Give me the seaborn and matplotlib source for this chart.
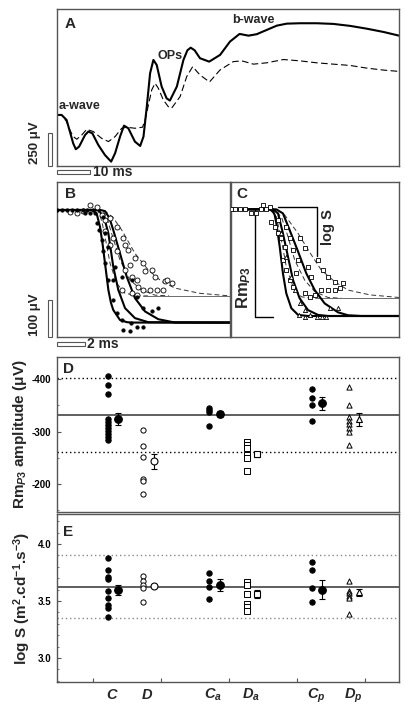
import matplotlib
matplotlib.use("Agg")
import matplotlib.pyplot as plt
import matplotlib.transforms as mtransforms
from matplotlib.patches import Rectangle
from matplotlib.ticker import MultipleLocator
import seaborn as sns

sns.set_theme(style="white")
plt.rcParams["font.family"] = ["Liberation Sans", "DejaVu Sans"]
plt.rcParams["font.weight"] = "bold"
plt.rcParams["mathtext.fontset"] = "custom"
plt.rcParams["mathtext.rm"] = "Liberation Sans:bold"
plt.rcParams["mathtext.it"] = "Liberation Sans:bold:italic"
plt.rcParams["mathtext.bf"] = "Liberation Sans:bold"
plt.rcParams["mathtext.default"] = "regular"
plt.rcParams["axes.unicode_minus"] = False

# ---- panel A: ERG traces (ms, uV) ----
a_time_solid = [0, 1.4, 2.9, 3.9, 4.9, 5.7, 6.7, 8.5, 9.5, 10.7, 12.5, 14.5, 16.4, 17.6, 19.1,
                20.3, 21.6, 23.6, 25.2, 26.2, 27.2, 28.2, 29.2, 30.2, 31.7, 33.2, 34.2, 36.3,
                38.3, 39.5, 40.5, 41.7, 43.3, 46.1, 49.4, 52.4, 55.3, 58.0, 60.5, 63.5, 66.6,
                69.6, 73.6, 78.7, 83.7, 88.8, 93.8, 98.9, 103.6]
a_volt_solid = [0, 0, -38, -126, -215, -260, -240, -152, -126, -139, -227, -303, -354, -290, -164,
                -81, -101, -202, -235, -164, 63, 316, 417, 379, 215, 126, 109, 215,
                417, 490, 510, 490, 430, 404, 455, 556, 614, 601, 612, 644, 677,
                692, 695, 695, 690, 675, 654, 629, 601]
a_time_dash = [0, 1.4, 2.9, 3.9, 4.9, 6.0, 7.5, 9.0, 11.0, 13.5, 15.6, 17.6, 19.6, 21.1, 23.6,
               25.9, 26.7, 27.7, 28.7, 29.7, 30.7, 32.2, 33.7, 34.7, 37.3, 39.3, 41.1, 43.3,
               46.2, 49.4, 53.4, 56.0, 59.5, 63.5, 68.6, 73.6, 78.7, 83.7, 88.8, 93.8, 98.9, 103.6]
a_volt_dash = [0, 0, -50, -114, -164, -184, -152, -109, -126, -177, -202, -164, -101, -93, -101,
               -93, -38, 76, 190, 240, 202, 114, 63, 51, 139, 291, 366, 303,
               250, 341, 404, 410, 385, 395, 420, 410, 395, 385, 375, 355, 340, 330]

# ---- panel B: a-wave fits (ms, uV) ----
b_fit_solid = [
    ([0, 2.6, 2.85, 3.07, 3.25, 3.43, 3.67, 3.85, 4.02, 4.5, 5.0, 5.33, 12.36],
     [0, 0, -12, -45, -90, -144, -216, -250, -270, -297, -303, -304, -304]),
    ([0, 2.9, 3.07, 3.4, 3.67, 4.02, 4.38, 4.86, 5.57, 6.52, 12.36],
     [0, 0, -5, -25, -63, -153, -216, -265, -292, -303, -304]),
    ([0, 3.1, 3.43, 3.75, 4.02, 4.5, 4.98, 5.57, 6.29, 7.24, 8.43, 12.36],
     [0, 0, -3, -22, -54, -117, -180, -238, -274, -295, -304, -304]),
]
b_fit_dash = [
    ([0, 2.7, 2.95, 3.2, 3.43, 3.79, 4.26, 4.86, 5.81, 6.5],
     [0, 0, -3, -30, -72, -144, -198, -225, -232, -232]),
    ([0, 3.0, 3.31, 3.6, 3.9, 4.5, 5.21, 6.05, 7.0, 8.0],
     [0, 0, -3, -25, -63, -135, -189, -216, -230, -232]),
    ([0, 3.0, 3.43, 4.0, 4.62, 5.57, 6.52, 7.48, 8.43, 10.2, 12.36],
     [0, 0, -3, -20, -54, -117, -162, -193, -211, -225, -232]),
]
b_level_dash = -232
b_filled_t = [0, 0.36, 0.71, 1.07, 1.45, 1.83, 2.17, 2.55, 2.0, 2.36, 2.71, 2.83, 3.0, 3.19,
              3.31, 3.43, 3.67, 4.02, 4.26, 4.62, 5.29, 5.69, 6.17, 4.74, 5.21, 6.17, 6.76,
              7.24, 3.67, 4.14, 4.62, 5.33, 5.69, 3.43, 4.02, 3.31]
b_filled_v = [0, 0, 0, 0, 0, 0, 0, 0, -8, -8, -9, -36, -54, -81,
              -112, -144, -189, -243, -279, -297, -306, -315, -315, -324, -326, -265, -274,
              -265, -99, -153, -180, -189, -234, -63, -189, -18]
b_open_t = [0.93, 1.4, 1.83, 2.36, 2.83, 3.19, 3.43, 3.79, 4.26, 4.02, 3.79, 4.26, 4.74, 4.86,
            5.1, 5.57, 5.21, 4.86, 5.33, 5.69, 6.17, 6.29, 6.76, 7.0, 7.71, 8.19, 5.81, 6.17,
            6.64, 7.12, 7.6, 7.83, 5.33, 5.69, 4.62, 3.43]
b_open_v = [-5, -9, -2, 13, 8, -13, -27, -22, -45, -76, -94, -112, -76, -94,
            -108, -130, -148, -162, -180, -189, -144, -166, -162, -180, -193, -198, -207, -216,
            -216, -216, -216, -189, -225, -229, -216, -58]

# ---- panel C: a-wave fits (ms, uV) ----
c_fit_solid = [
    ([0, 2.76, 3.0, 3.12, 3.24, 3.48, 3.71, 3.95, 4.31, 4.79, 5.5, 12.0],
     [0, 0, -5, -15, -38, -101, -173, -227, -267, -285, -288, -288]),
    ([0, 3.0, 3.36, 3.71, 4.07, 4.43, 4.9, 5.5, 6.21, 6.93, 12.0],
     [0, 0, -11, -65, -128, -191, -240, -272, -285, -288, -288]),
    ([0, 3.24, 3.71, 4.19, 4.79, 5.38, 5.98, 6.69, 7.64, 8.36, 9.3, 12.0],
     [0, 0, -11, -56, -114, -173, -218, -254, -278, -286, -288, -288]),
]
c_fit_dash = [
    ([0, 2.76, 3.24, 3.6, 3.95, 4.43, 5.02, 5.74, 6.5],
     [0, 0, -20, -83, -155, -209, -236, -240, -240]),
    ([0, 3.0, 3.6, 4.07, 4.55, 5.26, 5.98, 6.93, 7.88],
     [0, 0, -20, -74, -137, -191, -222, -238, -240]),
    ([0, 3.24, 3.83, 4.79, 5.74, 6.45, 7.4, 8.36, 9.93, 12.0],
     [0, 0, -15, -65, -123, -164, -195, -218, -231, -238]),
]
c_level_dash = -240
c_square_t = [0.05, 0.26, 0.62, 0.98, 1.4, 1.81, 2.17, 2.29, 2.52, 2.76, 2.88, 3.12, 3.36, 3.36,
              3.6, 3.83, 3.95, 4.19, 3.71, 3.95, 4.19, 4.43, 4.67, 4.79, 4.43, 4.9, 5.26, 5.5,
              5.74, 6.21, 6.57, 6.93, 7.4, 8.0, 5.26, 5.62, 5.98, 6.45, 6.93, 7.4, 7.76]
c_square_v = [0, 0, 0, 0, -11, -9, 0, 12, 0, 7, -33, -47, -29, -65,
              -78, -101, -47, -78, -137, -164, -191, -209, -173, -137, -110, -78, -105, -155,
              -182, -137, -164, -182, -195, -200, -227, -236, -231, -218, -218, -218, -213]
c_tri_t = [4.88, 5.26, 5.64, 6.12, 6.48, 6.79, 7.07, 7.67, 3.6, 3.95, 4.31, 4.55, 4.9, 5.26]
c_tri_v = [-285, -290, -285, -290, -292, -292, -267, -267, -65, -128, -182, -218, -254, -272]

# ---- panels D and E: groups ----
groups = ["C", "D", "Ca", "Da", "Cp", "Dp"]
group_labels = ["$\\mathit{C}$", "$\\mathit{D}$", "$\\mathit{C}_{\\mathit{a}}$",
                "$\\mathit{D}_{\\mathit{a}}$", "$\\mathit{C}_{\\mathit{p}}$",
                "$\\mathit{D}_{\\mathit{p}}$"]
group_x = [1.22, 1.74, 2.71, 3.26, 4.22, 4.76]
group_filled = [True, False, True, False, True, False]
group_marker = ["o", "o", "o", "s", "o", "^"]

rm_values = {
    "C": [-405.7, -388.6, -370.9, -323.2, -317.5, -312.4, -307.2, -300.9, -295.2, -290.0, -283.8],
    "D": [-302, -271.8, -251.4, -210, -205.7, -181],
    "Ca": [-344, -341, -337.8, -311],
    "Da": [-279.4, -273.7, -268, -255, -250, -225.4],
    "Cp": [-381, -363.2, -350.5, -320],
    "Dp": [-385.3, -350.5, -328.2, -320.6, -314.3, -307.2, -299.6, -274.3],
}
rm_mean = [-323.8, -243, -333.3, -256.5, -353.7, -323.2]
rm_err = [11.7, 14, 6.3, 4.5, 12.7, 12]
rm_ref = -332
rm_band = [-402.5, -261.5]

logs_values = {
    "C": [3.875, 3.772, 3.713, 3.693, 3.588, 3.524, 3.465, 3.436, 3.357],
    "D": [3.719, 3.675, 3.640, 3.611, 3.494],
    "Ca": [3.743, 3.675, 3.625, 3.515],
    "Da": [3.669, 3.640, 3.559, 3.471, 3.450, 3.412],
    "Cp": [3.845, 3.772, 3.617, 3.489],
    "Dp": [3.675, 3.588, 3.568, 3.547, 3.524, 3.383],
}
logs_mean = [3.596, 3.632, 3.64, 3.559, 3.60, 3.576]
logs_err = [0.044, 0.012, 0.05, 0.036, 0.08, 0.03]
logs_ref = 3.625
logs_band = [3.904, 3.348]

W, H = 406, 708
EDGE = "#555555"


def rect(x0, y0, x1, y1):
    return [x0 / W, 1 - y1 / H, (x1 - x0) / W, (y1 - y0) / H]


def frame(ax):
    for sp in ax.spines.values():
        sp.set_color(EDGE)
        sp.set_linewidth(1.0)
        sp.set_visible(True)


def scale_bars(ax, ybottom, yamount, xamount, vx, vw, hy, hh):
    tv = mtransforms.blended_transform_factory(ax.transAxes, ax.transData)
    ax.add_patch(Rectangle((vx, ybottom), vw, yamount, transform=tv, clip_on=False,
                           fill=False, ec=EDGE, lw=0.8))
    th = mtransforms.blended_transform_factory(ax.transData, ax.transAxes)
    ax.add_patch(Rectangle((0, hy), xamount, hh, transform=th, clip_on=False,
                           fill=False, ec=EDGE, lw=0.8))
    return th


fig = plt.figure(figsize=(W / 100, H / 100), dpi=100)

# ---------- A ----------
ax_a = fig.add_axes(rect(57, 9, 399, 166))
ax_a.plot(a_time_solid, a_volt_solid, color="black", lw=1.5)
ax_a.plot(a_time_dash, a_volt_dash, color="black", lw=0.8, dashes=(6, 3))
ax_a.set_xlim(0, 103.6)
ax_a.set_ylim(-387, 803)
ax_a.set_xticks([])
ax_a.set_yticks([])
frame(ax_a)
ax_a.text(0.022, 0.95, "A", transform=ax_a.transAxes, fontsize=11, fontweight="bold", va="top")
ax_a.text(0.6, 22, "a-wave", fontsize=9, fontweight="bold", va="bottom")
ax_a.text(30.5, 400, "OPs", fontsize=9, fontweight="bold", va="bottom")
ax_a.text(53, 675, "b-wave", fontsize=9, fontweight="bold", va="bottom")
th = scale_bars(ax_a, -387, 250, 10, -0.026, 0.012, -0.051, 0.0255)
ax_a.text(10.9, -0.04, "10 ms", transform=th, fontsize=10, fontweight="bold", va="center")
fig.text(35 / W, 1 - 143 / H, "250 μV", rotation=90, fontsize=9.5, fontweight="bold",
         ha="center", va="center")

# ---------- B ----------
ax_b = fig.add_axes(rect(57, 182, 230, 337))
for t, v in b_fit_dash:
    ax_b.plot(t, v, color="#333333", lw=0.7, dashes=(5, 3))
ax_b.plot([6.14, 12.36], [b_level_dash, b_level_dash], color="#555555", lw=0.6)
for t, v in b_fit_solid:
    ax_b.plot(t, v, color="black", lw=1.5)
sns.scatterplot(x=b_open_t, y=b_open_v, ax=ax_b, marker="o", s=13, facecolor="white",
                edgecolor="black", linewidth=0.6, zorder=3)
sns.scatterplot(x=b_filled_t, y=b_filled_v, ax=ax_b, marker="o", s=7, color="black",
                edgecolor="black", linewidth=0.3, zorder=4)
ax_b.set_xlim(0, 12.36)
ax_b.set_ylim(-343, 75.6)
ax_b.set_xticks([])
ax_b.set_yticks([])
frame(ax_b)
ax_b.text(0.046, 0.965, "B", transform=ax_b.transAxes, fontsize=11, fontweight="bold", va="top")
th = scale_bars(ax_b, -343, 100, 2, -0.052, 0.025, -0.056, 0.026)
ax_b.text(2.15, -0.045, "2 ms", transform=th, fontsize=10, fontweight="bold", va="center")
fig.text(35 / W, 1 - 315 / H, "100 μV", rotation=90, fontsize=9.5, fontweight="bold",
         ha="center", va="center")

# ---------- C ----------
ax_c = fig.add_axes(rect(231, 182, 399, 337))
for t, v in c_fit_dash:
    ax_c.plot(t, v, color="#333333", lw=0.7, dashes=(5, 3))
ax_c.plot([6.36, 12.0], [c_level_dash, c_level_dash], color="#555555", lw=0.6)
for t, v in c_fit_solid:
    ax_c.plot(t, v, color="black", lw=1.5)
sns.scatterplot(x=c_square_t, y=c_square_v, ax=ax_c, marker="s", s=8, facecolor="white",
                edgecolor="black", linewidth=0.6, zorder=3)
sns.scatterplot(x=c_tri_t, y=c_tri_v, ax=ax_c, marker="^", s=9, facecolor="white",
                edgecolor="black", linewidth=0.6, zorder=3)
# Rm_P3 and log S markers
ax_c.plot([1.68, 1.68, 3.0], [0, -290, -290], color="black", lw=1.0)
ax_c.plot([3.38, 6.12, 6.12], [5, 5, -126], color="black", lw=1.0)
ax_c.text(6.9, -47, "log S", rotation=90, fontsize=10.5, fontweight="bold",
          ha="center", va="center")
ax_c.text(0.93, -212, "Rm$_{\\mathit{P3}}$", rotation=90, fontsize=12, fontweight="bold",
          ha="center", va="center")
ax_c.set_xlim(0, 12.0)
ax_c.set_ylim(-344.7, 73.8)
ax_c.set_xticks([])
ax_c.set_yticks([])
frame(ax_c)
ax_c.text(0.034, 0.965, "C", transform=ax_c.transAxes, fontsize=11, fontweight="bold", va="top")


# ---------- D and E ----------
def group_panel(ax, values, means, errs, ref, band, band_color):
    ax.axhline(ref, color="#333333", lw=1.1, zorder=1)
    for b in band:
        ax.axhline(b, color=band_color, lw=1.0, ls=(0, (1, 2)), zorder=1)
    for g, x, filled, mk, m, e in zip(groups, group_x, group_filled, group_marker, means, errs):
        ys = values[g]
        sns.scatterplot(x=[x] * len(ys), y=ys, ax=ax, marker=mk, s=15 if filled else 14,
                        facecolor="black" if filled else "white", edgecolor="black",
                        linewidth=0.7, zorder=3)
        ax.errorbar(x + 0.15, m, yerr=e, fmt=mk, ms=5.5 if filled else 5,
                    mfc="black" if filled else "white", mec="black", mew=0.8,
                    ecolor="black", elinewidth=0.8, capsize=2.5, capthick=0.8, zorder=4)
    ax.set_xlim(0.47, 5.5)
    frame(ax)
    ax.tick_params(axis="y", which="major", direction="in", length=3, width=0.8,
                   labelsize=7, pad=4, left=True, colors=EDGE, labelcolor="black")
    ax.tick_params(axis="y", which="minor", direction="in", length=1.5, width=0.6,
                   left=True, colors=EDGE)


ax_d = fig.add_axes(rect(57, 357, 399, 512))
group_panel(ax_d, rm_values, rm_mean, rm_err, rm_ref, rm_band, "black")
ax_d.set_ylim(-146.7, -442)
ax_d.set_yticks([-400, -300, -200])
ax_d.yaxis.set_minor_locator(MultipleLocator(50))
ax_d.set_xticks([])
ax_d.text(0.018, 0.97, "D", transform=ax_d.transAxes, fontsize=11, fontweight="bold", va="top")
fig.text(20 / W, 1 - 434 / H, "Rm$_{\\mathit{P3}}$ amplitude (μV)", rotation=90, fontsize=11,
         fontweight="bold", ha="center", va="center")

ax_e = fig.add_axes(rect(57, 514, 399, 682))
group_panel(ax_e, logs_values, logs_mean, logs_err, logs_ref, logs_band, "#888888")
ax_e.set_ylim(2.789, 4.263)
ax_e.set_yticks([3.0, 3.5, 4.0])
ax_e.set_yticklabels(["3.0", "3.5", "4.0"])
ax_e.yaxis.set_minor_locator(MultipleLocator(0.1))
ax_e.set_xticks([1, 2, 3, 4, 5])
ax_e.set_xticklabels([])
ax_e.tick_params(axis="x", direction="in", length=3, width=0.8, bottom=True, colors=EDGE)
ax_e.text(0.018, 0.934, "E", transform=ax_e.transAxes, fontsize=11, fontweight="bold", va="top")
tx = mtransforms.blended_transform_factory(ax_e.transData, ax_e.transAxes)
for x, lab in zip(group_x, group_labels):
    ax_e.text(x + 0.06, -0.1, lab, transform=tx, fontsize=10.5, ha="center", va="baseline")
fig.text(22 / W, 1 - 598 / H, "log S (m$^{2}$.cd$^{-1}$.s$^{-3}$)", rotation=90, fontsize=11,
         fontweight="bold", ha="center", va="center")

fig.savefig("out.png", dpi=100)
